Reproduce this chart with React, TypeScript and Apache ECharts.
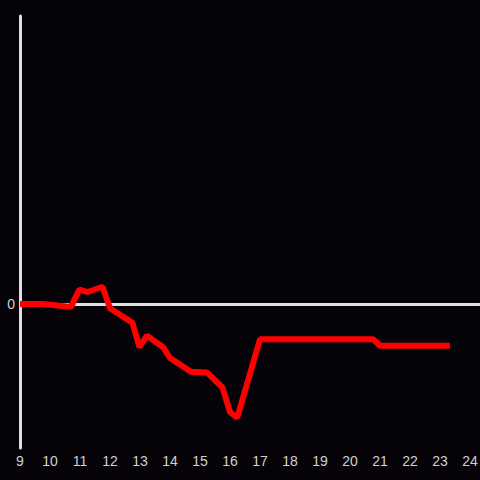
import React, { useEffect, useRef } from "react";
import * as echarts from "echarts";

const hours = [9.0, 9.77, 10.7, 10.98, 11.25, 11.75, 12.0, 12.75, 12.98, 13.23, 13.77, 14.0, 14.7, 15.23, 15.75, 16.0, 16.24, 17.0, 20.78, 21.0, 23.33];
const values = [0, 0, -0.02, 0.1, 0.083, 0.12, -0.03, -0.13, -0.3, -0.22, -0.3, -0.375, -0.47, -0.475, -0.58, -0.75, -0.79, -0.245, -0.245, -0.29, -0.29];
const xTicks = [9, 10, 11, 12, 13, 14, 15, 16, 17, 18, 19, 20, 21, 22, 23, 24];

export default function App() {
  const ref = useRef<HTMLDivElement>(null);
  useEffect(() => {
    if (!ref.current) return;
    const chart = echarts.init(ref.current, undefined, { renderer: "svg" });
    const data = hours.map((h, i) => [h, values[i]]);
    chart.setOption({
      animation: false,
      backgroundColor: "#050307",
      grid: { left: 20, right: 0, top: 16, bottom: 32, containLabel: false, outerBoundsMode: "none" },
      xAxis: {
        type: "value",
        min: 9,
        max: 24 + 1 / 3,
        interval: 1,
        axisLine: { show: false },
        axisTick: { show: false },
        splitLine: { show: false },
        axisLabel: {
          color: "#d0d0d0",
          fontSize: 14,
          margin: 6,
          fontFamily: "Liberation Sans, Arial, sans-serif",
          formatter: (v: number) => (xTicks.includes(v) ? String(v) : ""),
        },
      },
      yAxis: {
        type: "value",
        min: -1,
        max: 2,
        interval: 1,
        axisLine: { show: true, lineStyle: { color: "#e0e0e0", width: 3 } },
        axisTick: { show: false },
        splitLine: { show: false },
        axisLabel: {
          color: "#d0d0d0",
          fontSize: 14,
          margin: 5,
          fontFamily: "Liberation Sans, Arial, sans-serif",
          formatter: (v: number) => (v === 0 ? "0" : ""),
        },
      },
      series: [
        {
          type: "line",
          data,
          showSymbol: false,
          symbol: "none",
          lineStyle: { color: "#ff0000", width: 6 },
          z: 3,
          markLine: {
            silent: true,
            symbol: ["none", "none"],
            label: { show: false },
            lineStyle: { color: "#e0e0e0", width: 3, type: "solid" },
            data: [{ yAxis: 0 }],
            z: 2,
          },
        },
      ],
    });
    return () => chart.dispose();
  }, []);
  return <div ref={ref} style={{ width: 480, height: 480, position: "absolute", left: 0, top: 0 }} />;
}
